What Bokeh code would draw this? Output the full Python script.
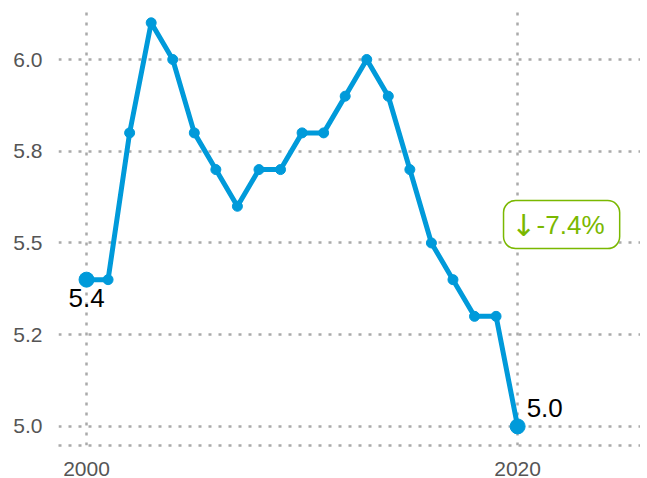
from bokeh.plotting import figure
from bokeh.models import Range1d, FixedTicker, Label, ColumnDataSource
from bokeh.embed import file_html
from bokeh.resources import INLINE

years = list(range(2000, 2021))
values = [5.4, 5.4, 5.8, 6.1, 6.0, 5.8, 5.7, 5.6, 5.7, 5.7, 5.8, 5.8, 5.9, 6.0, 5.9, 5.7, 5.5, 5.4, 5.3, 5.3, 5.0]
y_ticks = [5.0, 5.25, 5.5, 5.75, 6.0]
y_tick_labels = [f"{t:.1f}" for t in y_ticks]
x_ticks = [2000, 2020]

first_v, last_v = values[0], values[-1]
pct = (last_v - first_v) / first_v * 100

BLUE = "#009ada"
GREEN = "#7ab800"
GRID = "#aaaaaa"
FONT = "Liberation Sans"

p = figure(width=640, height=478, output_backend="svg", toolbar_location=None,
           x_range=Range1d(1998.7, 2025.7), y_range=Range1d(4.948, 6.139),
           min_border_top=8, min_border_right=0, min_border_left=58, min_border_bottom=0)
p.outline_line_color = None
p.background_fill_color = "white"

src = ColumnDataSource(dict(x=years, y=values))
p.line("x", "y", source=src, line_color=BLUE, line_width=5)
p.scatter("x", "y", source=src, size=10, color=BLUE)
p.scatter([years[0], years[-1]], [first_v, last_v], size=15, color=BLUE)

p.yaxis.ticker = FixedTicker(ticks=y_ticks)
p.yaxis.major_label_overrides = dict(zip(y_ticks, y_tick_labels))
p.xaxis.ticker = FixedTicker(ticks=x_ticks)
for ax in (p.xaxis, p.yaxis):
    ax.major_tick_line_color = None
    ax.minor_tick_line_color = None
    ax.major_label_text_font = FONT
    ax.major_label_text_font_size = "21px"
    ax.major_label_text_color = "#555555"
p.yaxis.axis_line_color = None
p.yaxis.major_label_standoff = 10
p.xaxis.axis_line_color = GRID
p.xaxis.axis_line_width = 2.5
p.xaxis.axis_line_dash = "3 7"
p.xaxis.major_label_standoff = 10

for g in (p.xgrid, p.ygrid):
    g.grid_line_color = GRID
    g.grid_line_width = 2.5
    g.grid_line_dash = "3 7"

p.add_layout(Label(x=years[0], y=first_v, text=f"{first_v:.1f}", text_align="center",
                   text_baseline="top", y_offset=-9, text_font=FONT, text_font_size="26px",
                   text_color="black"))
p.add_layout(Label(x=years[-1], y=last_v, text=f"{last_v:.1f}", text_align="left",
                   text_baseline="bottom", x_offset=9, y_offset=9, text_font=FONT,
                   text_font_size="26px", text_color="black"))

# change badge: box, then arrow and number drawn on top
bx, by = 2022.04, 5.55
p.add_layout(Label(x=bx, y=by, text=f"\u2193 {pct:.1f}%", text_align="center",
                   text_baseline="middle", text_font=FONT, text_font_size="26px",
                   text_color="white", border_line_color=GREEN,
                   border_line_width=1.5, background_fill_color="white",
                   padding=dict(left=14, right=14, top=9, bottom=9), border_radius=12))
p.add_layout(Label(x=bx, y=by, text="\u2193", text_align="center", text_baseline="middle",
                   x_offset=-38, y_offset=-1, text_font="DejaVu Sans", text_font_size="30px",
                   text_color=GREEN))
p.add_layout(Label(x=bx, y=by, text=f"{pct:.1f}%", text_align="left", text_baseline="middle",
                   x_offset=-25, text_font=FONT, text_font_size="26px", text_color=GREEN))

open("out.html", "w").write(file_html(p, INLINE))
